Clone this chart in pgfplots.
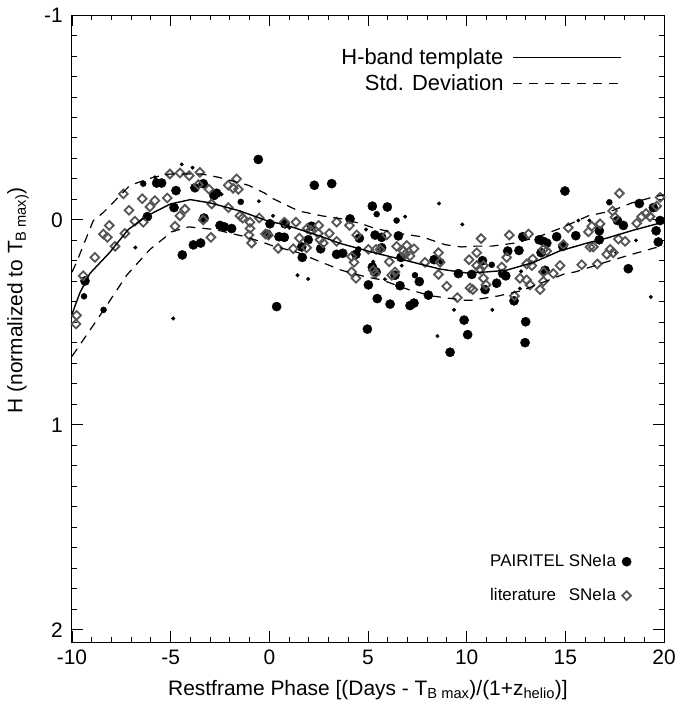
\documentclass[border=0pt]{standalone}
\usepackage{pgfplots}
\pgfplotsset{compat=1.18}
\usepackage{fontspec}
\setmainfont{Liberation Sans}
\usetikzlibrary{calc}
\definecolor{litgray}{HTML}{555555}
\newcommand{\fs}{\fontsize{21}{25}\selectfont}
\begin{document}
\begin{tikzpicture}
\begin{axis}[name=ax, scale only axis, width=592bp, height=627bp,
  xmin=-10, xmax=20, ymin=-1, ymax=2.06, y dir=reverse,
  xtick={-10,-5,0,5,10,15,20}, xticklabels={-10,-5,0,5,10,15,20},
  ytick={-1,0,1,2}, yticklabels={-1,0,1,2},
  minor x tick num=4, minor y tick num=9,
  major tick length=11bp, minor tick length=5bp, tick align=inside,
  axis line style={line width=1bp},
  every tick/.style={black, line width=0.9bp},
  tick label style={font=\fs},
  xticklabel style={inner sep=0pt, yshift=-8bp},
  yticklabel style={inner sep=0pt, xshift=-9bp},
  xlabel={Restframe Phase [(Days - T\textsubscript{B max})/(1+z\textsubscript{helio})]},
  ylabel={H (normalized to T\textsubscript{B max)})},
  label style={font=\fs},
  xlabel style={at={(axis description cs:0.5,-0.0766)}, anchor=center},
  ylabel style={at={(axis description cs:-0.0912,0.545)}, anchor=center},
  legend style={draw=none, fill=none, font=\fontsize{17}{20}\selectfont,
    at={(0.945,0.060)}, anchor=south east, inner sep=0pt,
    nodes={inner sep=0pt, text height=13.5bp, text depth=3.5bp},
    row sep=17bp, /tikz/column sep=6bp},
  legend plot pos=right, legend cell align=left,
  legend image code/.code={\draw[#1] plot coordinates {(0bp,0bp)};},
]
% small PAIRITEL
\addplot[only marks, mark=*, mark size=1.8bp, black, forget plot] coordinates {
(-5.8,-0.208) (-6.79,0.135) (-4.44,-0.271) (-3.89,-0.255) (-2.42,-0.125) (-0.53,-0.091)
(1.01,0.038) (1.43,0.27) (1.97,0.288) (-4.87,0.481) (6.88,-0.016) (8.6,-0.08) (4.9,0.047)
(5.27,0.204) (6.71,0.223) (5.86,0.29) (8.52,0.567) (9.78,0.022) (9.36,0.439) (11.3,0.439)
(12.76,0.251) (12.7,0.335) (15.66,0.003) (16.22,0.003) (18.58,0.1) (19.33,0.376) (17.57,0.16)
(0.19,-0.02)
};
% medium PAIRITEL
\addplot[only marks, mark=*, mark size=3bp, black, forget plot] coordinates {
(-6.39,-0.177) (-9.39,0.373) (-8.4,0.439) (-1.45,-0.088) (5.44,-0.028) (6.45,0.003)
(7.38,0.27) (8.72,0.204) (11.27,0.219) (17.23,-0.086) (4.51,0.144)
};
% large PAIRITEL
\addplot[only marks, mark=*, mark size=4.6bp, black] coordinates {
(-5.71,-0.18) (-5.46,-0.18) (-6.18,-0.016) (-9.34,0.298)
(-4.73,-0.143) (-3.77,-0.157) (-3.35,-0.177) (-2.81,-0.119) (-2.67,-0.13)
(-4.83,-0.06) (-4.41,0.171) (-3.85,0.122) (-3.48,0.113) (-3.31,-0.009)
(-2.5,0.027) (-2.28,0.034) (-1.91,0.042) (-0.56,-0.295) (0.03,0.019)
(0.37,0.423) (0.49,0.082) (0.76,0.085) (0.79,0.019) (1.67,0.183)
(1.97,0.097) (2.14,0.031) (2.28,-0.169) (3.16,-0.177) (2.6,0.141) (3.41,0.168)
(-0.1,0.07) (1.64,0.132)
(3.72,0.163) (4.09,-0.005) (4.39,0.168) (4.56,0.089) (5.22,-0.067) (5.98,-0.063)
(5.36,0.074) (5.69,0.085) (5.69,0.136) (6.67,0.183) (5.22,0.23) (5.41,0.254)
(5.02,0.317) (6.37,0.27) (6.62,0.321) (7.6,0.301) (5.47,0.384) (6.12,0.411)
(7.13,0.418) (7.33,0.406) (8.06,0.367) (4.97,0.533) (9.16,0.646) (8.35,0.194)
(9.58,0.262) (9.87,0.489) (10.05,0.56) (10.8,0.199) (11.52,0.309) (11.83,0.262)
(11.98,0.273) (12.08,0.152) (12.65,0.149) (12.84,0.082) (12.4,0.395) (12.99,0.497)
(12.96,0.599) (13.67,0.097) (13.89,0.105) (14.06,0.113) (13.77,0.16) (14.56,0.082)
(14.87,0.129) (14.98,-0.141) (15.53,0.077) (16.72,0.053) (16.72,0.097) (17.64,0.003)
(17.94,0.027) (18.75,-0.08) (19.46,-0.06) (19.8,0.003) (19.6,0.053) (19.71,0.108)
(18.19,0.238) (10.26,0.266) (13.97,0.246) (6.54,0.078) (10.93,0.34)
};
\addlegendentry{PAIRITEL SNeIa}
% literature
\addplot[only marks, mark=square, mark size=3.1bp, litgray, line width=1.8bp,
  mark options={rotate=45}] coordinates {
(-7.4,-0.127) (-6.44,-0.103) (-5.8,-0.094) (-6.05,-0.064) (-5.17,-0.107) (-7.11,-0.047)
(-6.81,0.006) (-6.39,0.011) (-8.11,0.027) (-8.41,0.069) (-8.21,0.085) (-7.82,0.129)
(-7.32,0.066) (-8.84,0.183) (-9.43,0.273) (-9.77,0.466) (-9.8,0.508) (-5.04,-0.224)
(-4.53,-0.229) (-4.06,-0.216) (-3.52,-0.232) (-3.6,-0.172) (-3.06,-0.15) (-2.92,-0.078)
(-4.28,-0.052) (-4.53,-0.02) (-4.78,0.031) (-3.35,0.0) (-2.96,0.085)
(-2.08,-0.169) (-1.66,-0.2) (-1.83,-0.154) (-1.57,-0.149) (-2.08,-0.06)
(-1.49,-0.02) (-1.35,-0.009) (-0.98,0.011) (-0.98,0.042) (-0.9,0.113) (-1.03,0.074)
(-0.51,-0.009) (-0.19,0.069) (-0.05,0.074) (0.45,0.139) (0.76,0.011) (1.21,0.141)
(1.35,0.011) (1.52,0.089) (1.89,0.136) (1.92,0.042) (2.09,0.05) (2.5,0.027) (2.48,0.066)
(2.57,0.097) (2.73,0.113) (3.04,0.066) (3.41,0.011) (3.41,0.105)
(4.06,0.027) (4.43,0.074) (4.17,0.179) (4.29,0.207) (4.17,0.254) (4.39,0.285)
(5.27,0.246) (5.36,0.262) (5.02,0.144) (5.41,0.144) (5.61,0.144) (6.08,0.204)
(6.2,0.27) (6.37,0.254) (6.45,0.129) (6.79,0.152) (6.96,0.125) (7.33,0.141)
(6.88,0.168) (7.13,0.176) (7.89,0.207) (8.57,0.16) (8.65,0.207) (8.99,0.324)
(9.53,0.379) (10.12,0.194) (10.51,0.16) (10.73,0.091) (10.51,0.223) (10.68,0.241)
(10.85,0.223) (10.17,0.332) (10.31,0.34) (10.85,0.285) (10.98,0.317) (11.78,0.23)
(12.03,0.183) (12.16,0.074) (12.42,0.371) (12.7,0.285) (13.04,0.293) (13.21,0.317)
(13.04,0.215) (13.3,0.223) (13.13,0.069) (13.35,0.191) (13.72,0.34) (13.89,0.254)
(13.89,0.144) (14.06,0.152) (14.39,0.262) (14.73,0.223) (14.9,0.121) (15.15,0.038)
(15.83,0.219) (16.17,0.058) (16.25,0.132) (16.42,0.132) (16.62,0.215) (16.76,0.019)
(17.1,0.168) (17.27,0.144) (17.43,0.16) (17.74,-0.13) (17.69,0.094) (18.03,0.105)
(17.4,-0.044) (17.52,-0.013) (18.62,0.016) (18.87,-0.016) (19.09,-0.031) (19.29,-0.016)
(19.63,-0.067) (19.8,-0.11) (5.95,0.074) (8.57,0.266) (13.89,0.3) (16.34,0.031)
};
\addlegendentry{\rlap{literature}\phantom{PAIRITEL} SNeIa}
\end{axis}
\begin{axis}[scale only axis, width=592bp, height=627bp,
  xmin=-10, xmax=20, ymin=-1, ymax=2.06, y dir=reverse, hide axis,
  legend style={draw=none, fill=none, font=\fontsize{22}{26}\selectfont,
    at={(0.929,0.95)}, anchor=north east, inner sep=0pt,
    nodes={inner sep=0pt, text height=17.6bp, text depth=4.4bp},
    row sep=4bp, /tikz/column sep=9bp},
  legend plot pos=right, legend cell align=right,
  legend image code/.code={\draw[#1, line width=1.3bp] (0bp,0bp) -- (108bp,0bp);},
]
\addplot[black, line width=1.4bp] coordinates {
(-10,0.46) (-9.6,0.356) (-9.1,0.262) (-8.1,0.16) (-7.15,0.047) (-6.2,-0.02) (-5.0,-0.078)
(-4.0,-0.099) (-3.0,-0.083) (-1.5,-0.044) (-0.15,0.003) (0.9,0.027) (2.6,0.08) (3.6,0.115)
(5.3,0.16) (7.0,0.2) (8.65,0.24) (10,0.259) (11,0.254) (12,0.246) (13.4,0.207)
(14.7,0.152) (16.1,0.113) (17.1,0.089) (18.45,0.05) (20,0.01)
};
\addlegendentry{H-band template}
\addplot[black, line width=1.2bp, dash pattern=on 9bp off 7bp] coordinates {
(-10,0.255) (-9.77,0.207) (-8.92,0.003) (-8.41,-0.036) (-7.06,-0.169) (-5.88,-0.208)
(-5.04,-0.224) (-3.43,-0.224) (-2.58,-0.208) (-1.06,-0.169) (-0.22,-0.13) (0.12,-0.107)
(1.47,-0.044) (2.65,-0.02) (3.67,-0.005) (4.68,0.019) (5.36,0.042) (6.54,0.066)
(7.72,0.082) (8.9,0.121) (9.75,0.132) (10.43,0.128) (11.27,0.128) (12.45,0.113)
(13.64,0.082) (14.82,0.038) (16.17,-0.02) (17.35,-0.044) (18.37,-0.083) (19.55,-0.114)
(20,-0.122)
};
\addlegendentry{Std. Deviation}
\addplot[black, line width=1.2bp, dash pattern=on 9bp off 7bp, forget plot] coordinates {
(-10,0.666) (-8.41,0.442) (-7.23,0.27) (-6.05,0.144) (-5.04,0.066) (-4.95,0.058)
(-4.1,0.034) (-2.75,0.047) (-1.23,0.082) (-0.22,0.113) (0.12,0.125) (1.47,0.16)
(2.65,0.207) (3.67,0.246) (4.85,0.277) (5.7,0.293) (7.05,0.34) (8.23,0.371)
(9.07,0.382) (9.92,0.392) (10.26,0.392) (11.61,0.371) (12.79,0.345) (13.97,0.301)
(14.99,0.262) (15.5,0.254) (17.02,0.207) (18.37,0.168) (19.55,0.136) (20,0.13)
};
\end{axis}
\pgfresetboundingbox
\path[use as bounding box] ($(ax.south west)+(-72bp,-65bp)$) rectangle ($(ax.north east)+(14bp,15bp)$);
\end{tikzpicture}
\end{document}
